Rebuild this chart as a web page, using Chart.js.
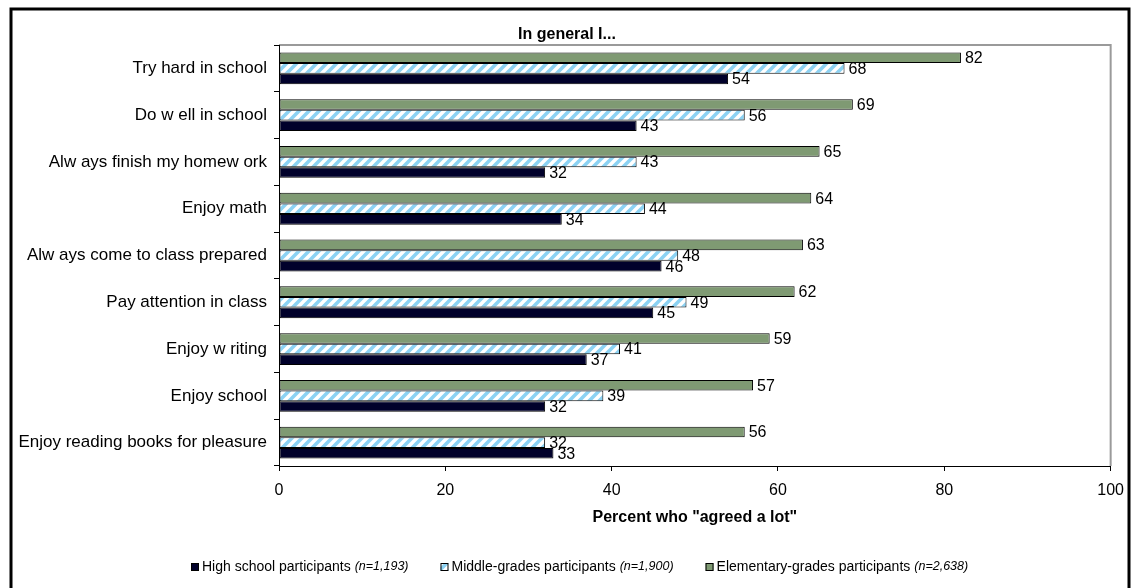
<!DOCTYPE html>
<html>
<head>
<meta charset="utf-8">
<script src="https://cdn.jsdelivr.net/npm/chart.js@4.4.1/dist/chart.umd.min.js"></script>
<style>
  html, body { margin: 0; padding: 0; background: #fff; }
  #wrap { width: 1134px; height: 588px; }
</style>
</head>
<body>
<div id="wrap"><canvas id="chart" width="1134" height="588"></canvas></div>
<script>
var categories = [
  'Try hard in school',
  'Do w ell in school',
  'Alw ays finish my homew ork',
  'Enjoy math',
  'Alw ays come to class prepared',
  'Pay attention in class',
  'Enjoy w riting',
  'Enjoy school',
  'Enjoy reading books for pleasure',
];
var highSchool = [54, 43, 32, 34, 46, 45, 37, 32, 33];
var middleGrades = [68, 56, 43, 44, 48, 49, 41, 39, 32];
var elementary = [82, 69, 65, 64, 63, 62, 59, 57, 56];
var xTicks = [0, 20, 40, 60, 80, 100];
var seriesNames = ['High school participants', 'Middle-grades participants', 'Elementary-grades participants'];
var seriesCounts = ['(n=1,193)', '(n=1,900)', '(n=2,638)'];
var chartTitle = 'In general I...';
var axisTitle = 'Percent who "agreed a lot"';

var FONT = 'Arial, "Liberation Sans", sans-serif';
var NAVY = '#01012b';
var GREEN = '#7f9a73';
var STRIPE = '#8cd2f3';

var canvas = document.getElementById('chart');
var ctx = canvas.getContext('2d');

// white with light blue diagonal stripes
function makeHatch() {
  var c = document.createElement('canvas');
  c.width = 10;
  c.height = 10;
  var g = c.getContext('2d');
  g.fillStyle = '#fff';
  g.fillRect(0, 0, 10, 10);
  g.strokeStyle = STRIPE;
  g.lineWidth = 3.6;
  g.beginPath();
  g.moveTo(-5, 5); g.lineTo(5, -5);
  g.moveTo(0, 10); g.lineTo(10, 0);
  g.moveTo(5, 15); g.lineTo(15, 5);
  g.stroke();
  return ctx.createPattern(c, 'repeat');
}
var hatch = makeHatch();

/** outer frame + grey plot border */
var framePlugin = {
  id : 'frame',
  beforeDraw : function (chart) {
    var c = chart.ctx;
    var a = chart.chartArea;
    c.save();
    c.fillStyle = '#fff';
    c.fillRect(0, 0, chart.width, chart.height);
    c.strokeStyle = '#000';
    c.lineWidth = 3;
    c.strokeRect(11, 9, 1118, 700);
    c.strokeStyle = '#9a9a9a';
    c.lineWidth = 2;
    c.beginPath();
    c.moveTo(a.left, a.top);
    c.lineTo(a.right, a.top);
    c.lineTo(a.right, a.bottom);
    c.stroke();
    c.restore();
  },
};

/** value labels at the end of each bar */
var valuePlugin = {
  id : 'values',
  afterDatasetsDraw : function (chart) {
    var c = chart.ctx;
    c.save();
    c.font = '16px ' + FONT;
    c.fillStyle = '#000';
    c.textAlign = 'left';
    c.textBaseline = 'middle';
    chart.data.datasets.forEach(function (ds, i) {
      var meta = chart.getDatasetMeta(i);
      meta.data.forEach(function (bar, j) {
        c.fillText(String(ds.data[j]), bar.x + 4, bar.y + 1);
      });
    });
    c.restore();
  },
};

/** title and legend with mixed fonts */
var textPlugin = {
  id : 'texts',
  afterDraw : function (chart) {
    var c = chart.ctx;
    c.save();
    c.fillStyle = '#000';
    c.textBaseline = 'middle';
    c.textAlign = 'center';
    c.font = 'bold 16px ' + FONT;
    c.fillText(chartTitle, 567, 35);

    var fills = [NAVY, hatch, GREEN];
    var mainFont = '14px ' + FONT;
    var smallFont = 'italic 12.5px ' + FONT;
    var x = 191;
    var y = 567;
    c.textAlign = 'left';
    for (var i = 0; i < seriesNames.length; i++) {
      c.fillStyle = fills[i];
      c.fillRect(x, y - 4, 8, 8);
      c.strokeStyle = '#000';
      c.lineWidth = 1;
      c.strokeRect(x + 0.5, y - 3.5, 7, 7);
      x += 11;
      c.fillStyle = '#000';
      c.font = mainFont;
      c.fillText(seriesNames[i], x, y);
      x += c.measureText(seriesNames[i]).width + 4;
      c.font = smallFont;
      c.fillText(seriesCounts[i], x, y);
      x += c.measureText(seriesCounts[i]).width + 32;
    }
    c.restore();
  },
};

var chart = new Chart(ctx, {
  type : 'bar',
  data : {
    labels : categories,
    datasets : [
      {
        label : seriesNames[2],
        data : elementary,
        backgroundColor : GREEN,
        borderColor : '#000',
        borderWidth : 1,
        borderSkipped : false,
      },
      {
        label : seriesNames[1],
        data : middleGrades,
        backgroundColor : hatch,
        borderColor : '#000',
        borderWidth : 1,
        borderSkipped : false,
      },
      {
        label : seriesNames[0],
        data : highSchool,
        backgroundColor : NAVY,
        borderColor : '#000',
        borderWidth : 1,
        borderSkipped : false,
      },
    ],
  },
  options : {
    indexAxis : 'y',
    responsive : false,
    animation : false,
    devicePixelRatio : 1,
    categoryPercentage : 0.68,
    barPercentage : 1.0,
    layout : { padding : { left : 0, right : 22, top : 45, bottom : 61 } },
    plugins : {
      legend : { display : false },
      title : { display : false },
      tooltip : { enabled : false },
    },
    scales : {
      x : {
        min : 0,
        max : 100,
        afterBuildTicks : function (scale) {
          scale.ticks = xTicks.map(function (v) { return { value : v }; });
        },
        afterFit : function (scale) { scale.height = 61; },
        grid : {
          drawOnChartArea : false,
          drawTicks : true,
          tickLength : 5,
          color : '#000',
        },
        border : { color : '#000', width : 1 },
        ticks : {
          color : '#000',
          padding : 10,
          maxRotation : 0,
          font : { family : FONT, size : 16 },
        },
        title : {
          display : true,
          text : axisTitle,
          color : '#000',
          padding : { top : 0, bottom : 0 },
          font : { family : FONT, size : 16, weight : 'bold' },
        },
      },
      y : {
        afterFit : function (scale) { scale.width = 279; },
        grid : {
          drawOnChartArea : false,
          drawTicks : true,
          tickLength : 5,
          color : '#000',
          offset : true,
        },
        border : { color : '#000', width : 1 },
        ticks : {
          color : '#000',
          padding : 7,
          font : { family : FONT, size : 17 },
        },
      },
    },
  },
  plugins : [framePlugin, valuePlugin, textPlugin],
});
</script>
</body>
</html>
